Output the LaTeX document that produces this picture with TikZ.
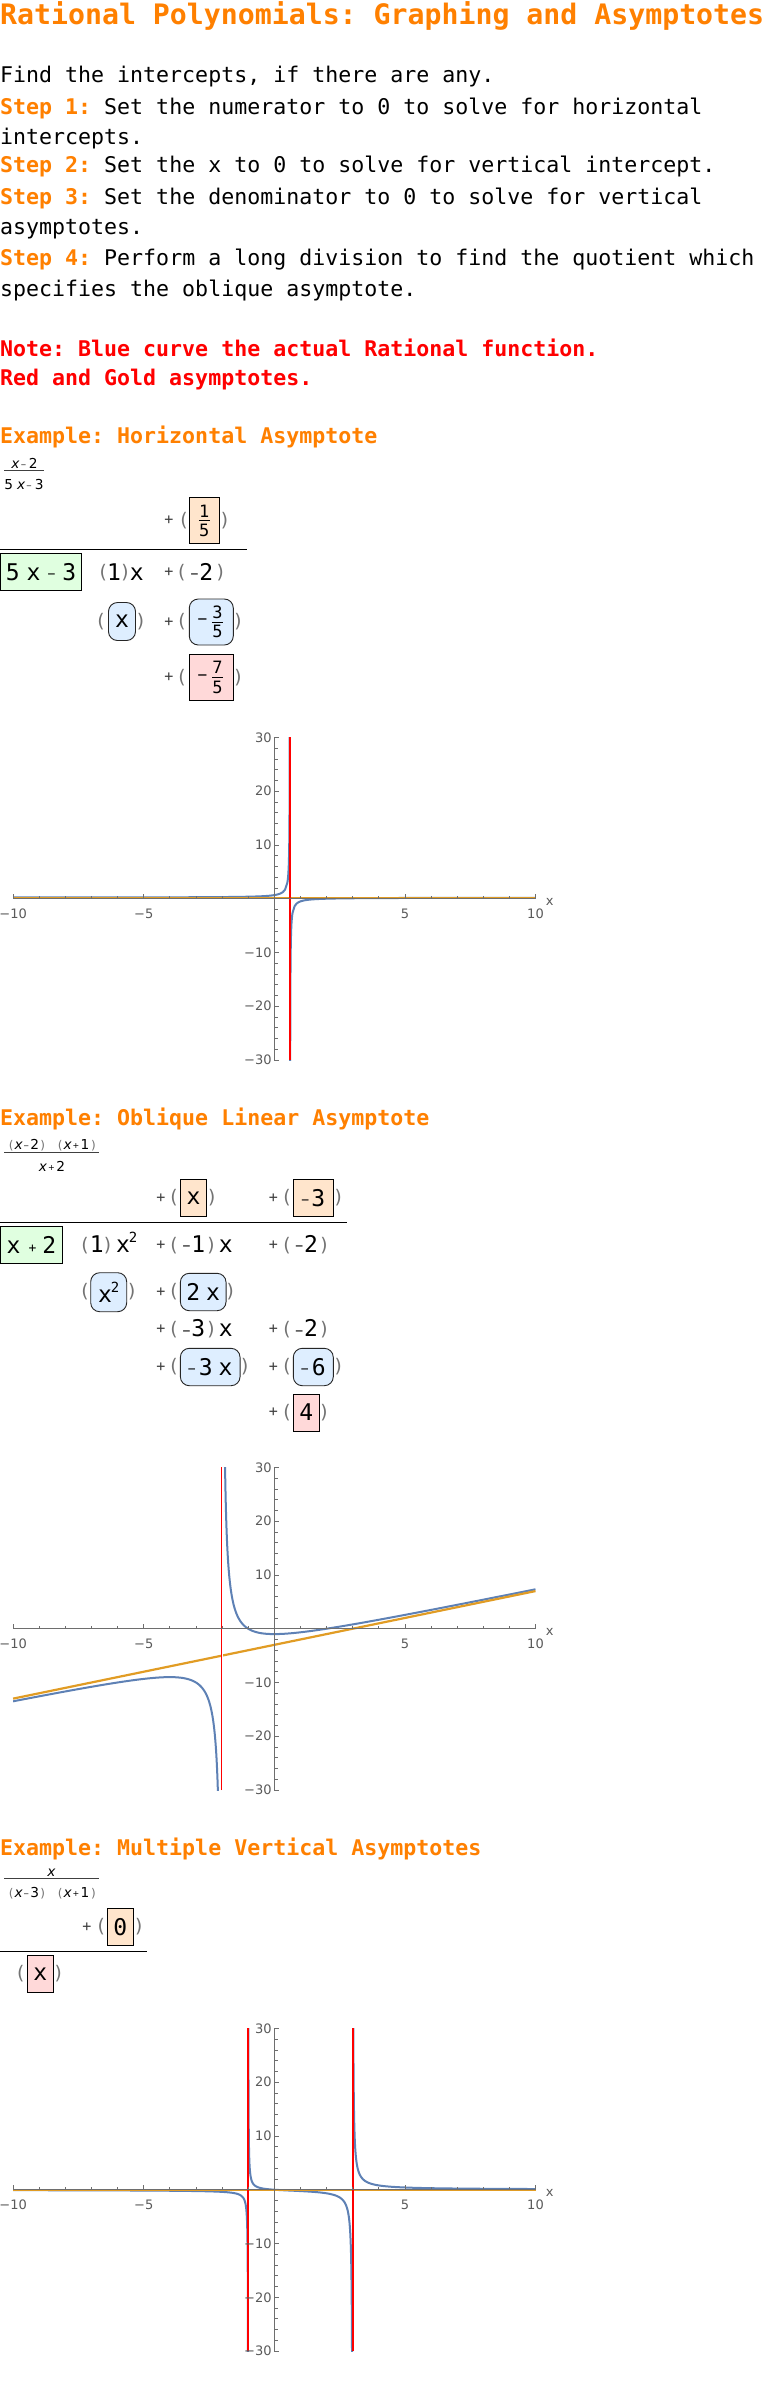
\documentclass[tikz,border=0pt]{standalone}
\usepackage{fontspec}
\setmainfont{DejaVu Sans Mono}
\newfontfamily\dvs{DejaVu Sans}
\frenchspacing
\definecolor{mOrange}{RGB}{255,128,0}
\definecolor{mRed}{RGB}{255,0,0}
\definecolor{mBlue}{RGB}{94,129,181}
\definecolor{mGold}{RGB}{225,156,36}
\definecolor{boxOr}{RGB}{255,229,204}
\definecolor{boxGr}{RGB}{224,255,224}
\definecolor{boxBl}{RGB}{222,238,255}
\definecolor{boxPk}{RGB}{255,217,217}
\definecolor{axcol}{RGB}{110,110,110}
\definecolor{labcol}{RGB}{90,90,90}
\newcommand\txs{\fontsize{21.6}{26}\selectfont}
\newcommand\tts{\fontsize{28.2}{34}\selectfont}
\newcommand\ldf{\fontsize{23}{27}\selectfont}
\newcommand\fnf{\fontsize{17}{20}\selectfont}
\newcommand\smf{\dvs\fontsize{13.7}{16}\selectfont}
\newcommand\smm{\raisebox{1.5pt}{\fontsize{13}{13}\selectfont −}}
\newcommand\smp{\raisebox{0.5pt}{\fontsize{13}{13}\selectfont +}}
\newcommand\tym{\raisebox{1pt}{\fontsize{7}{7}\selectfont −}}
\newcommand\typ{\raisebox{1pt}{\fontsize{8}{8}\selectfont +}}
\newcommand\tpar[1]{{\color{black!55}\fontsize{12}{12}\selectfont #1}}
\newcommand\gl[2]{\makebox[#1pt][c]{#2}}
\newcommand\bgminus{{\fontsize{16}{16}\selectfont −}}
\tikzset{
 txt/.style={inner sep=0, anchor=base west, font=\txs},
 hd/.style={inner sep=0, anchor=base west, font=\txs\bfseries, text=mOrange},
 ld/.style={inner sep=0, anchor=base, font=\ldf},
 prn/.style={inner sep=0, anchor=center, font={\dvs\fontsize{18.7}{20}\selectfont}, text=black!55},
 pls/.style={inner sep=0, anchor=center, font={\fontsize{15}{16}\selectfont}, text=black!75},
 bx/.style={draw=black, line width=0.9pt, inner sep=0, font=\ldf},
 obx/.style={bx, fill=boxOr},
 gbx/.style={bx, fill=boxGr},
 pbx/.style={bx, fill=boxPk},
 rbx/.style={bx, draw=black!85, fill=boxBl, rounded corners=9pt},
 fn/.style={inner sep=0, anchor=center, font=\fnf},
 fbar/.style={line width=0.8pt},
 divl/.style={line width=1.1pt},
 sfr/.style={inner sep=0, anchor=base, font=\smf},
 sbar/.style={line width=0.7pt, draw=black!75},
 axln/.style={draw=axcol, line width=0.9pt},
 tck/.style={draw=axcol, line width=0.7pt},
 tlab/.style={inner sep=0, font={\dvs\fontsize{13}{15}\selectfont}, text=labcol},
 bcurve/.style={draw=mBlue, line width=2pt, line join=round},
 gline/.style={draw=mGold, line width=2.2pt},
 rline/.style={draw=mRed, line width=2pt},
}
\newcommand\plotaxes[1]{%
 \foreach \t in {-10,...,-1,1,2,...,10} {\draw[tck] (\t,0) -- ++(0pt,3pt);}
 \foreach \t in {-10,-5,5,10} {\draw[tck] (\t,0) -- ++(0pt,4.5pt);}
 \foreach \t in {-30,-28,...,-2,2,4,...,30} {\draw[tck] (0,\t) -- ++(3.3pt,0pt);}
 \foreach \t in {-30,-20,-10,10,20,30} {\draw[tck] (0,\t) -- ++(5pt,0pt);}
 \draw[axln] (-10,0) -- (10,0);
 \draw[axln] (0,-30) -- (0,30);
 \foreach \t/\s/\n in {-10/−10/a,-5/−5/b,5/5/c,10/10/d} {\node[tlab, anchor=base] (#1x\n) at ([yshift=-19.5pt]\t,0) {\s};}
 \foreach \t/\s/\n in {-30/−30/a,-20/−20/b,-10/−10/c,10/10/d,20/20/e,30/30/f} {\node[tlab, anchor=east] (#1y\n) at ([xshift=-2.5pt]0,\t) {\s};}
 \node[tlab, anchor=center] (#1xl) at ([xshift=14.3pt,yshift=-3.5pt]10,0) {x};
}
\begin{document}
\begin{tikzpicture}[x=1pt,y=-1pt]
\path[use as bounding box] (0,0) rectangle (765,2391);
\fill[white] (0,0) rectangle (765,2391);
% ---------------- header text
\node[txt, font=\tts\bfseries, text=mOrange] (title) at (0,24) {Rational Polynomials: Graphing and Asymptotes};
\node[txt] (l1) at (0,82.3) {Find the intercepts, if there are any.};
\node[txt] (l2) at (0,114) {\textcolor{mOrange}{\bfseries Step 1:} Set the numerator to 0 to solve for horizontal};
\node[txt] (l3) at (0,144.3) {intercepts.};
\node[txt] (l4) at (0,172.3) {\textcolor{mOrange}{\bfseries Step 2:} Set the x to 0 to solve for vertical intercept.};
\node[txt] (l5) at (0,204) {\textcolor{mOrange}{\bfseries Step 3:} Set the denominator to 0 to solve for vertical};
\node[txt] (l6) at (0,234.3) {asymptotes.};
\node[txt] (l7) at (0,265.7) {\textcolor{mOrange}{\bfseries Step 4:} Perform a long division to find the quotient which};
\node[txt] (l8) at (0,296) {specifies the oblique asymptote.};
\node[txt, font=\txs\bfseries, text=mRed] (n1) at (0,356) {Note: Blue curve the actual Rational function.};
\node[txt, font=\txs\bfseries, text=mRed] (n2) at (0,385) {Red and Gold asymptotes.};
% ---------------- Example 1
\node[hd] (h1) at (0,443.3) {Example: Horizontal Asymptote};
\node[sfr] (f1n) at (24.5,468.3) {{\itshape x}\hspace{1pt}\tym\hspace{2.5pt}2};
\coordinate (f1a) at (4,470.7); \coordinate (f1b) at (43.7,470.7);
\draw[sbar] (f1a) -- (f1b);
\node[sfr] (f1d) at (24,489.3) {5\hspace{4pt}{\itshape x}\hspace{1pt}\tym\hspace{3pt}3};
% quotient
\node[pls] (e1qp) at (169,520.3) {+};
\node[prn] (e1qlp) at (184,520.3) {(};
\node[obx, minimum width=30pt, minimum height=46pt] (e1q) at (204.3,520.3) {};
\node[fn] (e1qn) at ([yshift=9.5pt]e1q.center) {1};
\node[fn] (e1qd) at ([yshift=-9.8pt]e1q.center) {5};
\draw[fbar] ([xshift=-5.5pt]e1q.center) -- ([xshift=5.5pt]e1q.center);
\node[prn] (e1qrp) at (224.5,520.3) {)};
\coordinate (e1la) at (0,549.3); \coordinate (e1lb) at (246.7,549.3);
\draw[divl] (e1la) -- (e1lb);
% divisor
\node[gbx, minimum width=80.6pt, minimum height=37pt] (e1d) at (41,571.8) {5\hspace{7pt}x\hspace{7pt}\smm\hspace{7pt}3};
% dividend
\node[prn] (e1a1) at (103.3,573) {(};
\node[ld] (e1a2) at (114,580) {1};
\node[prn] (e1a3) at (125,573) {)};
\node[ld] (e1a4) at (136.7,580) {x};
\node[pls] (e1a5) at (169,572.5) {+};
\node[prn] (e1a6) at (181.7,573) {(};
\node[ld] (e1a7) at (202,580) {\smm\hspace{1pt}2};
\node[prn] (e1a8) at (220.3,573) {)};
% row 3
\node[prn] (e1b1) at (101,622) {(};
\node[rbx, minimum width=27pt, minimum height=38pt] (e1b2) at (122,621.5) {x};
\node[prn] (e1b3) at (140.5,622) {)};
\node[pls] (e1b4) at (169,622) {+};
\node[prn] (e1b5) at (182,622) {(};
\node[rbx, minimum width=44pt, minimum height=46pt] (e1b6) at (211.3,622) {};
\node[fn] (e1b7) at ([xshift=-8.8pt]e1b6.center) {\bgminus};
\node[fn] (e1b8) at ([xshift=6.2pt,yshift=9.5pt]e1b6.center) {3};
\node[fn] (e1b9) at ([xshift=6.2pt,yshift=-9.8pt]e1b6.center) {5};
\draw[fbar] ([xshift=1pt]e1b6.center) -- ([xshift=11.4pt]e1b6.center);
\node[prn] (e1b10) at (238,622) {)};
% row 4
\node[pls] (e1c1) at (169,677.2) {+};
\node[prn] (e1c2) at (182,677.2) {(};
\node[pbx, minimum width=44pt, minimum height=45.7pt] (e1c3) at (211.3,677.2) {};
\node[fn] (e1c5) at ([xshift=-8.8pt]e1c3.center) {\bgminus};
\node[fn] (e1c6) at ([xshift=6.2pt,yshift=9.5pt]e1c3.center) {7};
\node[fn] (e1c7) at ([xshift=6.2pt,yshift=-9.8pt]e1c3.center) {5};
\draw[fbar] ([xshift=1pt]e1c3.center) -- ([xshift=11.4pt]e1c3.center);
\node[prn] (e1c4) at (238,677.2) {)};
% plot 1
\begin{scope}[shift={(274.3,898.7)}, x=26.12pt, y=5.377pt]
 \begin{scope}
  \clip (-10,-30) rectangle (10,30);
  \draw[bcurve] plot[domain=-10:0.5, samples=120] (\x,{(\x-2)/(5*\x-3)}) -- plot[domain=0.5:0.596, samples=150] (\x,{(\x-2)/(5*\x-3)});
  \draw[bcurve] plot[domain=0.604:0.7, samples=150] (\x,{(\x-2)/(5*\x-3)}) -- plot[domain=0.7:10, samples=120] (\x,{(\x-2)/(5*\x-3)});
 \end{scope}
 \draw[gline] (-10,0.2) -- (10,0.2);
 \draw[rline] (0.6,-30) -- (0.6,30);
 \plotaxes{p1}
\end{scope}
% ---------------- Example 2
\node[hd] (h2) at (0,1125) {Example: Oblique Linear Asymptote};
\node[sfr] (f2n) at (52.4,1149) {\gl{5.5}{\tpar(}\gl{9.5}{\itshape x}\gl{6}{\tym}\gl{10.5}{2}\gl{5.5}{\tpar)}\hspace{12pt}\gl{5.5}{\tpar(}\gl{9.5}{\itshape x}\gl{7}{\typ}\gl{11}{1}\gl{6}{\tpar)}};
\coordinate (f2a) at (4,1152.3); \coordinate (f2b) at (99,1152.3);
\draw[sbar] (f2a) -- (f2b);
\node[sfr] (f2d) at (52,1171.5) {{\itshape x}\hspace{1pt}\typ\hspace{1.5pt}2};
% quotient
\node[pls] (e2q1) at (160.8,1198) {+};
\node[prn] (e2q2) at (174,1198) {(};
\node[obx, minimum width=26.4pt, minimum height=37.4pt] (e2q3) at (193.5,1198) {x};
\node[prn] (e2q4) at (211.7,1198) {)};
\node[pls] (e2q5) at (273.5,1198) {+};
\node[prn] (e2q6) at (287,1198) {(};
\node[obx, minimum width=40pt, minimum height=37.4pt] (e2q7) at (313.3,1198) {\smm\hspace{2pt}3};
\node[prn] (e2q8) at (338.3,1198) {)};
\coordinate (e2la) at (0,1222.3); \coordinate (e2lb) at (346.7,1222.3);
\draw[divl] (e2la) -- (e2lb);
% divisor
\node[gbx, minimum width=61.6pt, minimum height=37.3pt] (e2d) at (31.5,1244.7) {x\hspace{8pt}\smp\hspace{6pt}2};
% dividend
\node[prn] (e2a1) at (85,1245.3) {(};
\node[ld] (e2a2) at (96.7,1252.3) {1};
\node[prn] (e2a3) at (107.5,1245.3) {)};
\node[ld] (e2a4) at (126.7,1252.3) {x\hspace{-1pt}\raisebox{10pt}{\fontsize{14}{14}\selectfont 2}};
\node[pls] (e2a5) at (160.8,1244.8) {+};
\node[prn] (e2a6) at (174,1245.3) {(};
\node[ld] (e2a7) at (194,1252.3) {\smm\hspace{1pt}1};
\node[prn] (e2a8) at (211,1245.3) {)};
\node[ld] (e2a9) at (225.8,1252.3) {x};
\node[pls] (e2a10) at (273.5,1244.8) {+};
\node[prn] (e2a11) at (287,1245.3) {(};
\node[ld] (e2a12) at (306.7,1252.3) {\smm\hspace{1pt}2};
\node[prn] (e2a13) at (324,1245.3) {)};
% row 3
\node[prn] (e2b1) at (85,1292) {(};
\node[rbx, minimum width=36pt, minimum height=39pt] (e2b2) at (108.7,1292.2) {x\hspace{-1pt}\raisebox{10pt}{\fontsize{14}{14}\selectfont 2}};
\node[prn] (e2b3) at (131.7,1292) {)};
\node[pls] (e2b4) at (160.8,1292) {+};
\node[prn] (e2b5) at (174,1292) {(};
\node[rbx, minimum width=45.7pt, minimum height=37.4pt] (e2b6) at (203.2,1292) {2\hspace{6pt}x};
\node[prn] (e2b7) at (230.2,1292) {)};
% row 4
\node[pls] (e2c1) at (160.8,1329.2) {+};
\node[prn] (e2c2) at (174,1329.7) {(};
\node[ld] (e2c3) at (194,1336.7) {\smm\hspace{1pt}3};
\node[prn] (e2c4) at (211,1329.7) {)};
\node[ld] (e2c5) at (225.8,1336.7) {x};
\node[pls] (e2c6) at (273.5,1329.2) {+};
\node[prn] (e2c7) at (287,1329.7) {(};
\node[ld] (e2c8) at (306.7,1336.7) {\smm\hspace{1pt}2};
\node[prn] (e2c9) at (324,1329.7) {)};
% row 5
\node[pls] (e2d1) at (160.8,1367) {+};
\node[prn] (e2d2) at (174,1367) {(};
\node[rbx, minimum width=59.7pt, minimum height=37.4pt] (e2d3) at (210.2,1367) {\smm\hspace{3pt}3\hspace{6pt}x};
\node[prn] (e2d4) at (244.8,1367) {)};
\node[pls] (e2d5) at (273.5,1367) {+};
\node[prn] (e2d6) at (287,1367) {(};
\node[rbx, minimum width=40pt, minimum height=37.4pt] (e2d7) at (313.3,1367) {\smm\hspace{3pt}6};
\node[prn] (e2d8) at (338.3,1367) {)};
% row 6
\node[pls] (e2e1) at (273.5,1412.5) {+};
\node[prn] (e2e2) at (287,1412.5) {(};
\node[pbx, minimum width=26pt, minimum height=37pt] (e2e3) at (306.3,1412.5) {4};
\node[prn] (e2e4) at (324,1412.5) {)};
% plot 2
\begin{scope}[shift={(274.3,1628.7)}, x=26.12pt, y=5.377pt]
 \begin{scope}
  \clip (-10,-30) rectangle (10,30);
  \draw[bcurve] plot[domain=-10:-3, samples=100] (\x,{\x-3+4/(\x+2)}) -- plot[domain=-3:-2.12, samples=200] (\x,{\x-3+4/(\x+2)});
  \draw[bcurve] plot[domain=-1.89:-1, samples=200] (\x,{\x-3+4/(\x+2)}) -- plot[domain=-1:10, samples=150] (\x,{\x-3+4/(\x+2)});
 \end{scope}
 \draw[gline] (-10,-13) -- (10,7);
 \draw[rline, line width=2.2pt] (-2,-30) -- (-2,30);
 \draw[white, line width=0.6pt] (-2,-30) -- (-2,30);
 \plotaxes{p2}
\end{scope}
% ---------------- Example 3
\node[hd] (h3) at (0,1855) {Example: Multiple Vertical Asymptotes};
\node[sfr] (f3n) at (51.5,1876) {\itshape x};
\coordinate (f3a) at (4,1878.3); \coordinate (f3b) at (98.7,1878.3);
\draw[sbar] (f3a) -- (f3b);
\node[sfr] (f3d) at (52.4,1897) {\gl{5.5}{\tpar(}\gl{9.5}{\itshape x}\gl{6}{\tym}\gl{10.5}{3}\gl{5.5}{\tpar)}\hspace{12pt}\gl{5.5}{\tpar(}\gl{9.5}{\itshape x}\gl{7}{\typ}\gl{11}{1}\gl{6}{\tpar)}};
\node[pls] (e3q1) at (87,1926.8) {+};
\node[prn] (e3q2) at (101.3,1926.8) {(};
\node[obx, minimum width=26pt, minimum height=37pt] (e3q3) at (120.3,1926.8) {0};
\node[prn] (e3q4) at (138.7,1926.8) {)};
\coordinate (e3la) at (0,1951.3); \coordinate (e3lb) at (146.7,1951.3);
\draw[divl] (e3la) -- (e3lb);
\node[prn] (e3r1) at (20.8,1973.8) {(};
\node[pbx, minimum width=26pt, minimum height=37pt] (e3r2) at (40.3,1973.8) {x};
\node[prn] (e3r3) at (58.3,1973.8) {)};
% plot 3
\begin{scope}[shift={(274.3,2189.7)}, x=26.12pt, y=5.377pt]
 \begin{scope}
  \clip (-10,-30) rectangle (10,30);
  \draw[bcurve] plot[domain=-10:-1.2, samples=150] (\x,{\x/((\x-3)*(\x+1))}) -- plot[domain=-1.2:-1.007, samples=200] (\x,{\x/((\x-3)*(\x+1))});
  \draw[bcurve] plot[domain=-0.993:-0.8, samples=200] (\x,{\x/((\x-3)*(\x+1))}) -- plot[domain=-0.8:2.8, samples=200] (\x,{\x/((\x-3)*(\x+1))}) -- plot[domain=2.8:2.978, samples=200] (\x,{\x/((\x-3)*(\x+1))});
  \draw[bcurve] plot[domain=3.022:3.3, samples=200] (\x,{\x/((\x-3)*(\x+1))}) -- plot[domain=3.3:10, samples=150] (\x,{\x/((\x-3)*(\x+1))});
 \end{scope}
 \draw[gline] (-10,0) -- (10,0);
 \draw[rline] (-1,-30) -- (-1,30);
 \draw[rline] (3,-30) -- (3,30);
 \plotaxes{p3}
\end{scope}
\end{tikzpicture}
\end{document}
